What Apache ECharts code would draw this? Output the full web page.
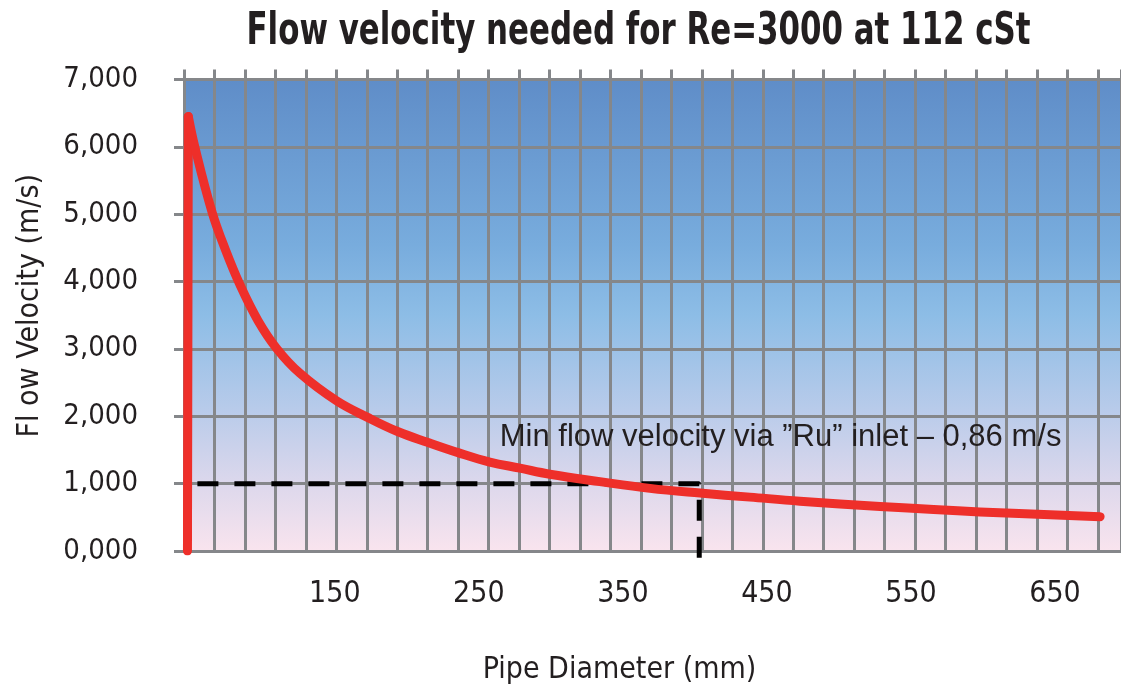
<!DOCTYPE html>
<html>
<head>
<meta charset="utf-8">
<script src="https://cdn.jsdelivr.net/npm/echarts@6/dist/echarts.min.js"></script>
<style>
  html, body { margin: 0; padding: 0; background: #fff; }
  #chart { width: 1121px; height: 692px; }
</style>
</head>
<body>
<div id="chart"></div>
<script>
// values
const diameterMm = [47.7, 48.3, 52.8, 64.8, 74.1, 84.2, 96.7, 109.9, 125.7, 151.2, 173.1, 194.0,
  214.8, 235.6, 257.6, 278.5, 299.3, 334.0, 368.8, 403.5, 438.2, 472.9, 528.5, 597.9, 681.3];
const velocity = [0, 6.45, 6.00, 5.03, 4.47, 3.95, 3.42, 3.00, 2.64, 2.23, 1.98, 1.77,
  1.61, 1.46, 1.32, 1.23, 1.14, 1.03, 0.93, 0.86, 0.80, 0.74, 0.66, 0.58, 0.51];

// dashed guide for the min velocity
const guideX = [54.6, 403.0, 403.0];
const guideY = [1, 1, -0.18];

const xLabels = [150, 250, 350, 450, 550, 650];
const titleText = 'Flow velocity needed for Re=3000 at 112 cSt';
const noteText = 'Min flow velocity via ”Ru” inlet – 0,86 m/s';

const gridGray = '#85878a';
const textColor = '#231f20';
const narrow = '"Liberation Sans Narrow", "DejaVu Sans Condensed", sans-serif';

const chart = echarts.init(document.getElementById('chart'));

const curve = diameterMm.map((d, i) => [d, velocity[i]]);

const option = {
  backgroundColor: '#ffffff',
  animation: false,
  graphic: [
    {
      // title, squeezed to look like a condensed face
      type: 'text',
      x: 638.5,
      y: 33,
      scaleX: 0.78,
      style: {
        text: titleText,
        fontFamily: narrow,
        fontWeight: 'bold',
        fontSize: 44,
        fill: textColor,
        align: 'center',
        verticalAlign: 'middle'
      }
    }
  ],
  grid: {
    left: 184,
    right: 0,
    top: 79.5,
    bottom: 141,
    show: true,
    borderWidth: 0,
    backgroundColor: new echarts.graphic.LinearGradient(0, 0, 0, 1, [
      { offset: 0, color: '#5f8dc8' },
      { offset: 0.35, color: '#78acdd' },
      { offset: 0.5, color: '#8dbde6' },
      { offset: 0.7, color: '#b8cbea' },
      { offset: 0.86, color: '#ddd8ec' },
      { offset: 1, color: '#f9e4ee' }
    ])
  },
  xAxis: [
    {
      type: 'value',
      min: 45.3,
      max: 695.8,
      axisLine: { show: false },
      axisTick: { show: false },
      splitLine: { show: false },
      axisLabel: {
        customValues: xLabels,
        margin: 28,
        fontFamily: narrow,
        fontSize: 30,
        color: textColor
      },
      name: 'Pipe Diameter (mm)',
      nameLocation: 'middle',
      nameGap: 104,
      nameTextStyle: {
        fontFamily: narrow,
        fontSize: 30,
        color: textColor,
        padding: [0, 66, 0, 0]
      }
    },
    {
      // grid columns
      type: 'value',
      min: 0,
      max: 30.76,
      interval: 1,
      axisLine: { show: true, lineStyle: { color: gridGray, width: 3 } },
      axisTick: { show: true, length: 10, lineStyle: { color: gridGray, width: 3 } },
      axisLabel: { show: false },
      splitLine: { show: true, lineStyle: { color: gridGray, width: 3 } }
    }
  ],
  yAxis: {
    type: 'value',
    min: 0,
    max: 7,
    interval: 1,
    axisLine: { show: true, lineStyle: { color: gridGray, width: 3 } },
    axisTick: { show: true, length: 10, lineStyle: { color: gridGray, width: 3 } },
    splitLine: { show: true, lineStyle: { color: gridGray, width: 3 } },
    axisLabel: {
      margin: 46,
      fontFamily: narrow,
      fontSize: 29,
      color: textColor,
      formatter: v => v.toFixed(3).replace('.', ',')
    },
    name: 'Fl ow Velocity (m/s)',
    nameLocation: 'middle',
    nameGap: 139,
    nameTextStyle: {
      fontFamily: narrow,
      fontSize: 30,
      color: textColor,
      padding: [0, 0, 0, 19]
    }
  },
  series: [
    {
      type: 'line',
      xAxisIndex: 0,
      data: guideX.map((x, i) => [x, guideY[i]]),
      symbol: 'none',
      clip: false,
      lineStyle: { color: '#000000', width: 5, type: [21, 16] },
      markPoint: {
        symbol: 'circle',
        symbolSize: 0,
        data: [{ coord: [264.5, 1.68] }],
        label: {
          show: true,
          position: 'right',
          distance: 0,
          formatter: noteText,
          fontFamily: '"Liberation Sans", Arial, sans-serif',
          fontSize: 31,
          color: textColor
        }
      }
    },
    {
      // vertical rise at the first point
      type: 'line',
      xAxisIndex: 0,
      data: curve.slice(0, 2),
      symbol: 'none',
      lineStyle: { color: '#ee2f2a', width: 9, cap: 'round', join: 'round' }
    },
    {
      type: 'line',
      xAxisIndex: 0,
      data: curve.slice(1),
      symbol: 'none',
      smooth: 0.4,
      lineStyle: { color: '#ee2f2a', width: 9, cap: 'round', join: 'round' }
    }
  ]
};

chart.setOption(option);
</script>
</body>
</html>
